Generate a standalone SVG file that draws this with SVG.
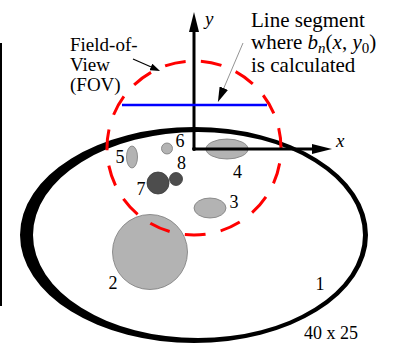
<svg xmlns="http://www.w3.org/2000/svg" width="393" height="344" viewBox="0 0 393 344">
<defs>
<style>
text{font-family:"Liberation Serif","Times New Roman",serif;fill:#000}
.num{font-size:18px;text-anchor:middle}
.lbl{font-size:19px}
.note{font-size:21px}
.it{font-style:italic}
.obj{fill:#b3b3b3;stroke:#7a7a7a;stroke-width:0.8}
.dark{fill:#4d4d4d;stroke:#3a3a3a;stroke-width:0.8}
.axis{stroke:#000;stroke-width:3;fill:none}
</style>
<marker id="axhead" markerUnits="userSpaceOnUse" markerWidth="20" markerHeight="10" viewBox="0 0 20 10" refX="2" refY="5" orient="auto"><path d="M0,0 L20,5 L0,10 z" fill="#000"/></marker>
<marker id="fovhead" markerUnits="userSpaceOnUse" markerWidth="10" markerHeight="7" viewBox="0 0 10 7" refX="1" refY="3.5" orient="auto"><path d="M0,0 L10,3.5 L0,7 z" fill="#000"/></marker>
<marker id="seghead" markerUnits="userSpaceOnUse" markerWidth="15" markerHeight="9" viewBox="0 0 15 9" refX="2" refY="4.5" orient="auto"><path d="M0,0 L15,4.5 L0,9 z" fill="#000"/></marker>
</defs>
<rect width="393" height="344" fill="#fff"/>
<line x1="1" y1="43" x2="1" y2="306" stroke="#000" stroke-width="2"/>
<g id="phantom">
<path fill="#000" fill-rule="evenodd" d="M20,235 A174,108 0 1,0 368,235 A174,108 0 1,0 20,235 Z M33,235 A165,103 0 1,0 363,235 A165,103 0 1,0 33,235 Z"/>
</g>
<g id="obj2"><circle class="obj" cx="150" cy="252" r="37.5"/></g>
<g id="obj3"><ellipse class="obj" cx="210" cy="208" rx="16" ry="10"/></g>
<g id="obj4"><ellipse class="obj" cx="227" cy="149" rx="21" ry="10"/></g>
<g id="obj5"><ellipse class="obj" cx="132" cy="157" rx="5.5" ry="11"/></g>
<g id="obj6"><circle class="obj" cx="167" cy="148.5" r="5.5"/></g>
<g id="obj7"><circle class="dark" cx="158" cy="183" r="11"/></g>
<g id="obj8"><circle class="dark" cx="176" cy="179" r="6.5"/></g>
<g id="fov"><circle cx="194" cy="148" r="87" fill="none" stroke="#ff0000" stroke-width="3" stroke-dasharray="21 15.44" stroke-dashoffset="21"/></g>
<g id="connectors">
<line class="axis" x1="194" y1="149" x2="194" y2="30" marker-end="url(#axhead)"/>
<line class="axis" x1="193" y1="149" x2="314" y2="149" marker-end="url(#axhead)"/>
<circle cx="194" cy="149" r="2" fill="#000"/>
<line x1="122" y1="105" x2="267" y2="105" stroke="#0000ff" stroke-width="2.5"/>
<line x1="133" y1="59" x2="151.8" y2="67.3" stroke="#000" stroke-width="1.2" marker-end="url(#fovhead)"/>
<line x1="243" y1="43" x2="223" y2="90" stroke="#777" stroke-width="0.8" marker-end="url(#seghead)"/>
</g>
<g id="labels">
<text class="num" x="320" y="290">1</text>
<text class="num" x="113" y="289">2</text>
<text class="num" x="234" y="208">3</text>
<text class="num" x="237.5" y="178">4</text>
<text class="num" x="120" y="163">5</text>
<text class="num" x="180" y="147">6</text>
<text class="num" x="141" y="195">7</text>
<text class="num" x="181.5" y="169">8</text>
<text class="num" x="331" y="339">40 x 25</text>
<text class="lbl it" x="205" y="25">y</text>
<text class="lbl it" x="336" y="147">x</text>
<text class="lbl" x="70" y="51">Field-of-</text>
<text class="lbl" x="70" y="71">View</text>
<text class="lbl" x="70" y="91">(FOV)</text>
<text class="note" x="251" y="27">Line segment</text>
<text class="note" x="251" y="49">where <tspan class="it">b</tspan><tspan class="it" font-size="15" dy="4">n</tspan><tspan dy="-4">(</tspan><tspan class="it">x</tspan>, <tspan class="it">y</tspan><tspan font-size="15" dy="4">0</tspan><tspan dy="-4">)</tspan></text>
<text class="note" x="251" y="72">is calculated</text>
</g>
</svg>
